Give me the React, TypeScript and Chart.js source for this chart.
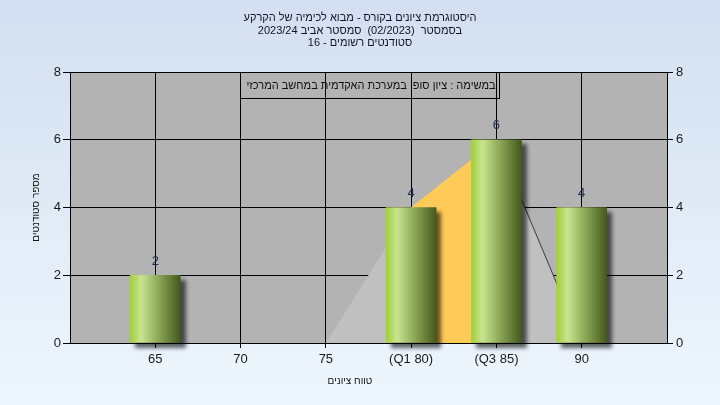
import React, { useEffect, useRef } from 'react';
import { Chart, registerables } from 'chart.js';

Chart.register(...registerables);

const titleLines = [
  'היסטוגרמת ציונים בקורס - מבוא לכימיה של הקרקע',
  'בסמסטר  (02/2023)  סמסטר אביב 2023/24',
  'סטודנטים רשומים - 16',
];
const legendText = 'במשימה : ציון סופי במערכת האקדמית במחשב המרכזי';
const xTitle = 'טווח ציונים';
const yTitle = 'מספר סטודנטים';

const gradeValues = [65, 70, 75, 80, 85, 90];
const gradeLabels = ['65', '70', '75', '(Q1 80)', '(Q3 85)', '90'];
const studentCounts = [2, 0, 0, 4, 6, 4];

const curveX = [75, 80, 85, 90];
const curveY = [0, 4, 6, 0];
const quartileX = [80, 85];
const quartileY = [4, 6];
const tailX = [85, 90];
const tailY = [6, 0];

const FONT = '"Liberation Sans", Arial, sans-serif';

const pts = (xs: number[], ys: (number | null)[]) => xs.map((x, i) => ({ x, y: ys[i] }));

export default function App() {
  const ref = useRef<HTMLCanvasElement | null>(null);

  useEffect(() => {
    document.body.style.margin = '0';
    const canvas = ref.current;
    if (!canvas) return;

    const decorPlugin = {
      id: 'decor',
      beforeDraw(chart: any) {
        const { ctx, chartArea } = chart;
        ctx.save();
        ctx.fillStyle = '#b3b3b3';
        ctx.fillRect(chartArea.left, chartArea.top, chartArea.right - chartArea.left, chartArea.bottom - chartArea.top);
        ctx.restore();
      },
      beforeDatasetDraw(chart: any, args: any) {
        if (args.index === 0) {
          const ctx = chart.ctx;
          ctx.save();
          ctx.shadowColor = 'rgba(0,0,0,0.6)';
          ctx.shadowBlur = 4;
          ctx.shadowOffsetX = 5;
          ctx.shadowOffsetY = 5;
        }
      },
      afterDatasetDraw(chart: any, args: any) {
        if (args.index === 0) chart.ctx.restore();
      },
      afterDraw(chart: any) {
        const { ctx, chartArea } = chart;
        const xs = chart.scales.x;
        const ys = chart.scales.y;
        ctx.save();
        ctx.textAlign = 'center';
        ctx.textBaseline = 'middle';
        // title
        ctx.fillStyle = '#141428';
        ctx.font = `11px ${FONT}`;
        const ty = [18, 30.5, 43];
        titleLines.forEach((t, i) => ctx.fillText(t, 360, ty[i]));
        // legend box
        ctx.strokeStyle = '#000';
        ctx.lineWidth = 1;
        ctx.strokeRect(240.5, chartArea.top + 0.5, 259, 26);
        ctx.fillStyle = '#101010';
        ctx.fillText(legendText, 371, chartArea.top + 13.5);
        // value labels
        ctx.fillStyle = '#1c2c50';
        ctx.font = `13px ${FONT}`;
        gradeValues.forEach((v, i) => {
          if (!studentCounts[i]) return;
          ctx.fillText(String(studentCounts[i]), xs.getPixelForValue(v), ys.getPixelForValue(studentCounts[i]) - 14);
        });
        // axis titles
        ctx.fillStyle = '#141414';
        ctx.font = `10px ${FONT}`;
        ctx.fillText(xTitle, 350, 381);
        ctx.translate(36, (chartArea.top + chartArea.bottom) / 2);
        ctx.rotate(-Math.PI / 2);
        ctx.fillText(yTitle, 0, 0);
        ctx.restore();
      },
    };

    const chart = new Chart(canvas, {
      type: 'bar',
      data: {
        datasets: [
          {
            type: 'bar',
            label: 'students',
            data: pts(gradeValues, studentCounts.map((v) => (v ? v : null))),
            barThickness: 50,
            borderWidth: 0,
            clip: false,
            order: 0,
            backgroundColor: (c: any) => {
              const chart = c.chart;
              const xs = chart.scales && chart.scales.x;
              if (!xs || c.type !== 'data') return '#8fb848';
              const cx = xs.getPixelForValue(gradeValues[c.dataIndex]);
              if (!isFinite(cx)) return '#8fb848';
              const g = chart.ctx.createLinearGradient(cx - 25, 0, cx + 25, 0);
              g.addColorStop(0, '#a2d03a');
              g.addColorStop(0.22, '#c8e48f');
              g.addColorStop(0.55, '#8eab5a');
              g.addColorStop(1, '#45591b');
              return g;
            },
          } as any,
          {
            type: 'line',
            label: 'tail',
            data: pts(tailX, tailY),
            borderColor: '#3a3a3a',
            borderWidth: 1,
            pointRadius: 0,
            fill: false,
            order: 1,
          } as any,
          {
            type: 'line',
            label: 'quartiles',
            data: pts(quartileX, quartileY),
            borderWidth: 0,
            borderColor: 'rgba(0,0,0,0)',
            backgroundColor: '#ffca58',
            pointRadius: 0,
            fill: 'origin',
            order: 2,
          } as any,
          {
            type: 'line',
            label: 'curve',
            data: pts(curveX, curveY),
            borderWidth: 0,
            borderColor: 'rgba(0,0,0,0)',
            backgroundColor: '#c0c0c0',
            pointRadius: 0,
            fill: 'origin',
            order: 3,
          } as any,
        ],
      },
      options: {
        animation: false,
        responsive: true,
        maintainAspectRatio: false,
        layout: { padding: { top: 72, left: 0, right: 0, bottom: 0 } },
        plugins: {
          legend: { display: false },
          title: { display: false },
          tooltip: { enabled: false },
        },
        scales: {
          x: {
            type: 'linear',
            min: 60,
            max: 95,
            offset: false,
            afterBuildTicks: (s: any) => {
              s.ticks = gradeValues.map((v) => ({ value: v }));
            },
            afterFit: (s: any) => {
              s.height = 62;
            },
            ticks: {
              autoSkip: false,
              maxRotation: 0,
              padding: 4,
              color: '#1a1a1a',
              font: { family: FONT, size: 13 },
              callback: (v: any) => gradeLabels[gradeValues.indexOf(Number(v))] ?? '',
            },
            grid: { color: '#000', lineWidth: 1, tickLength: 5, offset: false },
            border: { display: true, color: '#000' },
          },
          y: {
            type: 'linear',
            position: 'left',
            min: 0,
            max: 8,
            afterFit: (s: any) => {
              s.width = 70;
            },
            ticks: { stepSize: 2, padding: 2, color: '#1a1a1a', font: { family: FONT, size: 13 } },
            grid: { color: '#000', lineWidth: 1, tickLength: 7 },
            border: { display: true, color: '#000' },
          },
          y2: {
            type: 'linear',
            position: 'right',
            min: 0,
            max: 8,
            afterFit: (s: any) => {
              s.width = 53;
            },
            ticks: { stepSize: 2, padding: 3, color: '#1a1a1a', font: { family: FONT, size: 13 } },
            grid: { drawOnChartArea: false, color: '#000', lineWidth: 1, tickLength: 6 },
            border: { display: true, color: '#000' },
          },
        },
      } as any,
      plugins: [decorPlugin],
    });

    return () => chart.destroy();
  }, []);

  return (
    <div
      style={{
        position: 'fixed',
        left: 0,
        top: 0,
        width: 720,
        height: 405,
        background: 'linear-gradient(180deg, #d3dff0 0%, #eef6fd 100%)',
      }}
    >
      <canvas ref={ref} />
    </div>
  );
}
